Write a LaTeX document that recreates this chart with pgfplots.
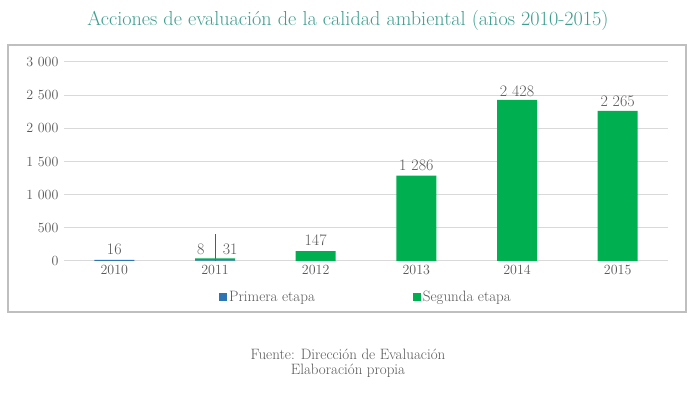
\documentclass[border=0pt]{standalone}
\usepackage{pgfplots}
\pgfplotsset{compat=1.18}
\definecolor{titlec}{HTML}{3E9E8E}
\definecolor{txt}{HTML}{595959}
\definecolor{gridc}{HTML}{D9D9D9}
\definecolor{framec}{HTML}{BFBFBF}
\definecolor{blueb}{HTML}{2E75B6}
\definecolor{greenb}{HTML}{00B050}
\tikzset{lbl/.style={text=txt, font=\fontsize{16}{18}\selectfont}}
\begin{document}
\begin{tikzpicture}
\path[use as bounding box] (0,0) rectangle (700pt,396pt);
\fill[white] (0,0) rectangle (700pt,396pt);
\draw[framec, line width=1.5pt] (8pt,84pt) rectangle (686pt,351pt);
\node[text=titlec, font=\fontsize{20.2}{22}\selectfont] at (348pt,376pt) {Acciones de evaluación de la calidad ambiental (años 2010-2015)};
\node[text=txt, font=\fontsize{15}{15.5}\selectfont, align=center] at (348pt,33pt) {Fuente: Dirección de Evaluación\\Elaboración propia};
\begin{axis}[
  at={(64pt,135pt)}, anchor=south west,
  scale only axis, width=604pt, height=199pt,
  xmin=-0.5, xmax=5.5, ymin=0, ymax=3000,
  ybar stacked, bar width=40pt,
  axis line style={draw=none},
  tick style={draw=none},
  ytick={0,500,1000,1500,2000,2500,3000},
  yticklabels={0,500,1 000,1 500,2 000,2 500,3 000},
  xtick={0,1,2,3,4,5},
  xticklabels={2010,2011,2012,2013,2014,2015},
  ymajorgrids, grid style={gridc, line width=1pt},
  ticklabel style={text=txt, font=\fontsize{14}{16}\selectfont},
  yticklabel style={xshift=-2pt},
  xticklabel style={yshift=-1pt},
  legend columns=2,
  legend style={draw=none, fill=none, at={(0.5,-0.181)}, anchor=center,
    font=\fontsize{15}{17}\selectfont, text=txt,
    /tikz/every even column/.append style={column sep=96pt}},
  legend image code/.code={\fill[#1] (0pt,-4pt) rectangle (8pt,4pt);},
  clip=false,
]
\addplot[fill=blueb, draw=none] coordinates {(0,16) (1,8) (2,0) (3,0) (4,0) (5,0)};
\addlegendentry{Primera etapa}
\addplot[fill=greenb, draw=none] coordinates {(0,0) (1,31) (2,147) (3,1286) (4,2428) (5,2265)};
\addlegendentry{Segunda etapa}
\node[lbl, anchor=south, yshift=2pt] at (axis cs:0,16) {16};
\node[lbl] at (axis cs:0.86,180) {8};
\node[lbl] at (axis cs:1.15,180) {31};
\draw[txt, line width=0.6pt] (axis cs:1,0) -- (axis cs:1,410);
\node[lbl, anchor=south, yshift=2pt] at (axis cs:2,147) {147};
\node[lbl, anchor=south, yshift=1pt] at (axis cs:3,1286) {1 286};
\node[lbl, anchor=south, yshift=0pt] at (axis cs:4,2428) {2 428};
\node[lbl, anchor=south, yshift=0pt] at (axis cs:5,2265) {2 265};
\end{axis}
\end{tikzpicture}
\end{document}
